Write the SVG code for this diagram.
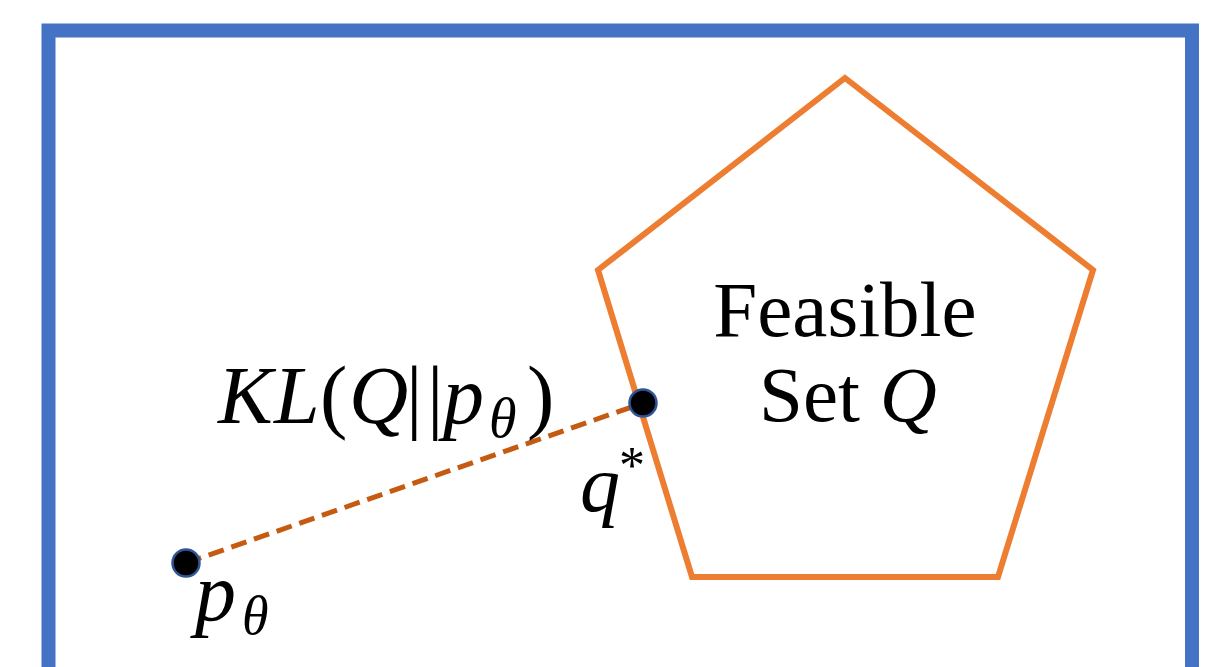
<svg xmlns="http://www.w3.org/2000/svg" width="1227" height="667" viewBox="0 0 1227 667">
<style>
.txt{font-family:"Liberation Serif","DejaVu Serif",serif;fill:#000}
.m{font-style:italic}
.n{font-style:normal}
.dot{fill:#000;stroke:#2F5597;stroke-width:2.5}
</style>
<rect width="1227" height="667" fill="#fff"/>
<g id="frame"><rect x="48.5" y="30.5" width="1143.5" height="700" fill="none" stroke="#4472C4" stroke-width="14"/></g>
<g id="feasible-set">
<polygon points="845,78 1093,270 998,577 692,577 598,270" fill="none" stroke="#ED7D31" stroke-width="6" stroke-linejoin="miter"/>
<text class="txt" x="845" y="336" font-size="79" text-anchor="middle">Feasible</text>
<text class="txt" x="848" y="421" font-size="79" text-anchor="middle">Set <tspan class="m">Q</tspan></text>
</g>
<g id="connectors">
<line x1="186" y1="563" x2="643" y2="403" stroke="#C55A11" stroke-width="5" stroke-dasharray="16,8"/>
</g>
<g id="q-star">
<circle class="dot" cx="643" cy="403" r="13.5"/>
<text class="txt m" x="580" y="511" font-size="80">q<tspan font-size="52" class="n" x="619" dy="-28">*</tspan></text>
</g>
<g id="p-theta">
<circle class="dot" cx="186" cy="563" r="13.5"/>
<text class="txt m" x="195" y="620" font-size="82">p<tspan font-size="54" x="242" dy="14">θ</tspan></text>
</g>
<g id="kl-label">
<text class="txt m" y="423" font-size="82"><tspan x="218">K</tspan><tspan x="274">L</tspan><tspan class="n" x="320">(</tspan><tspan x="349">Q</tspan><tspan class="n" x="406">|</tspan><tspan class="n" x="427">|</tspan><tspan x="443">p</tspan><tspan font-size="56" x="489" dy="14">θ</tspan><tspan class="n" x="527" dy="-14">)</tspan></text>
</g>
</svg>
